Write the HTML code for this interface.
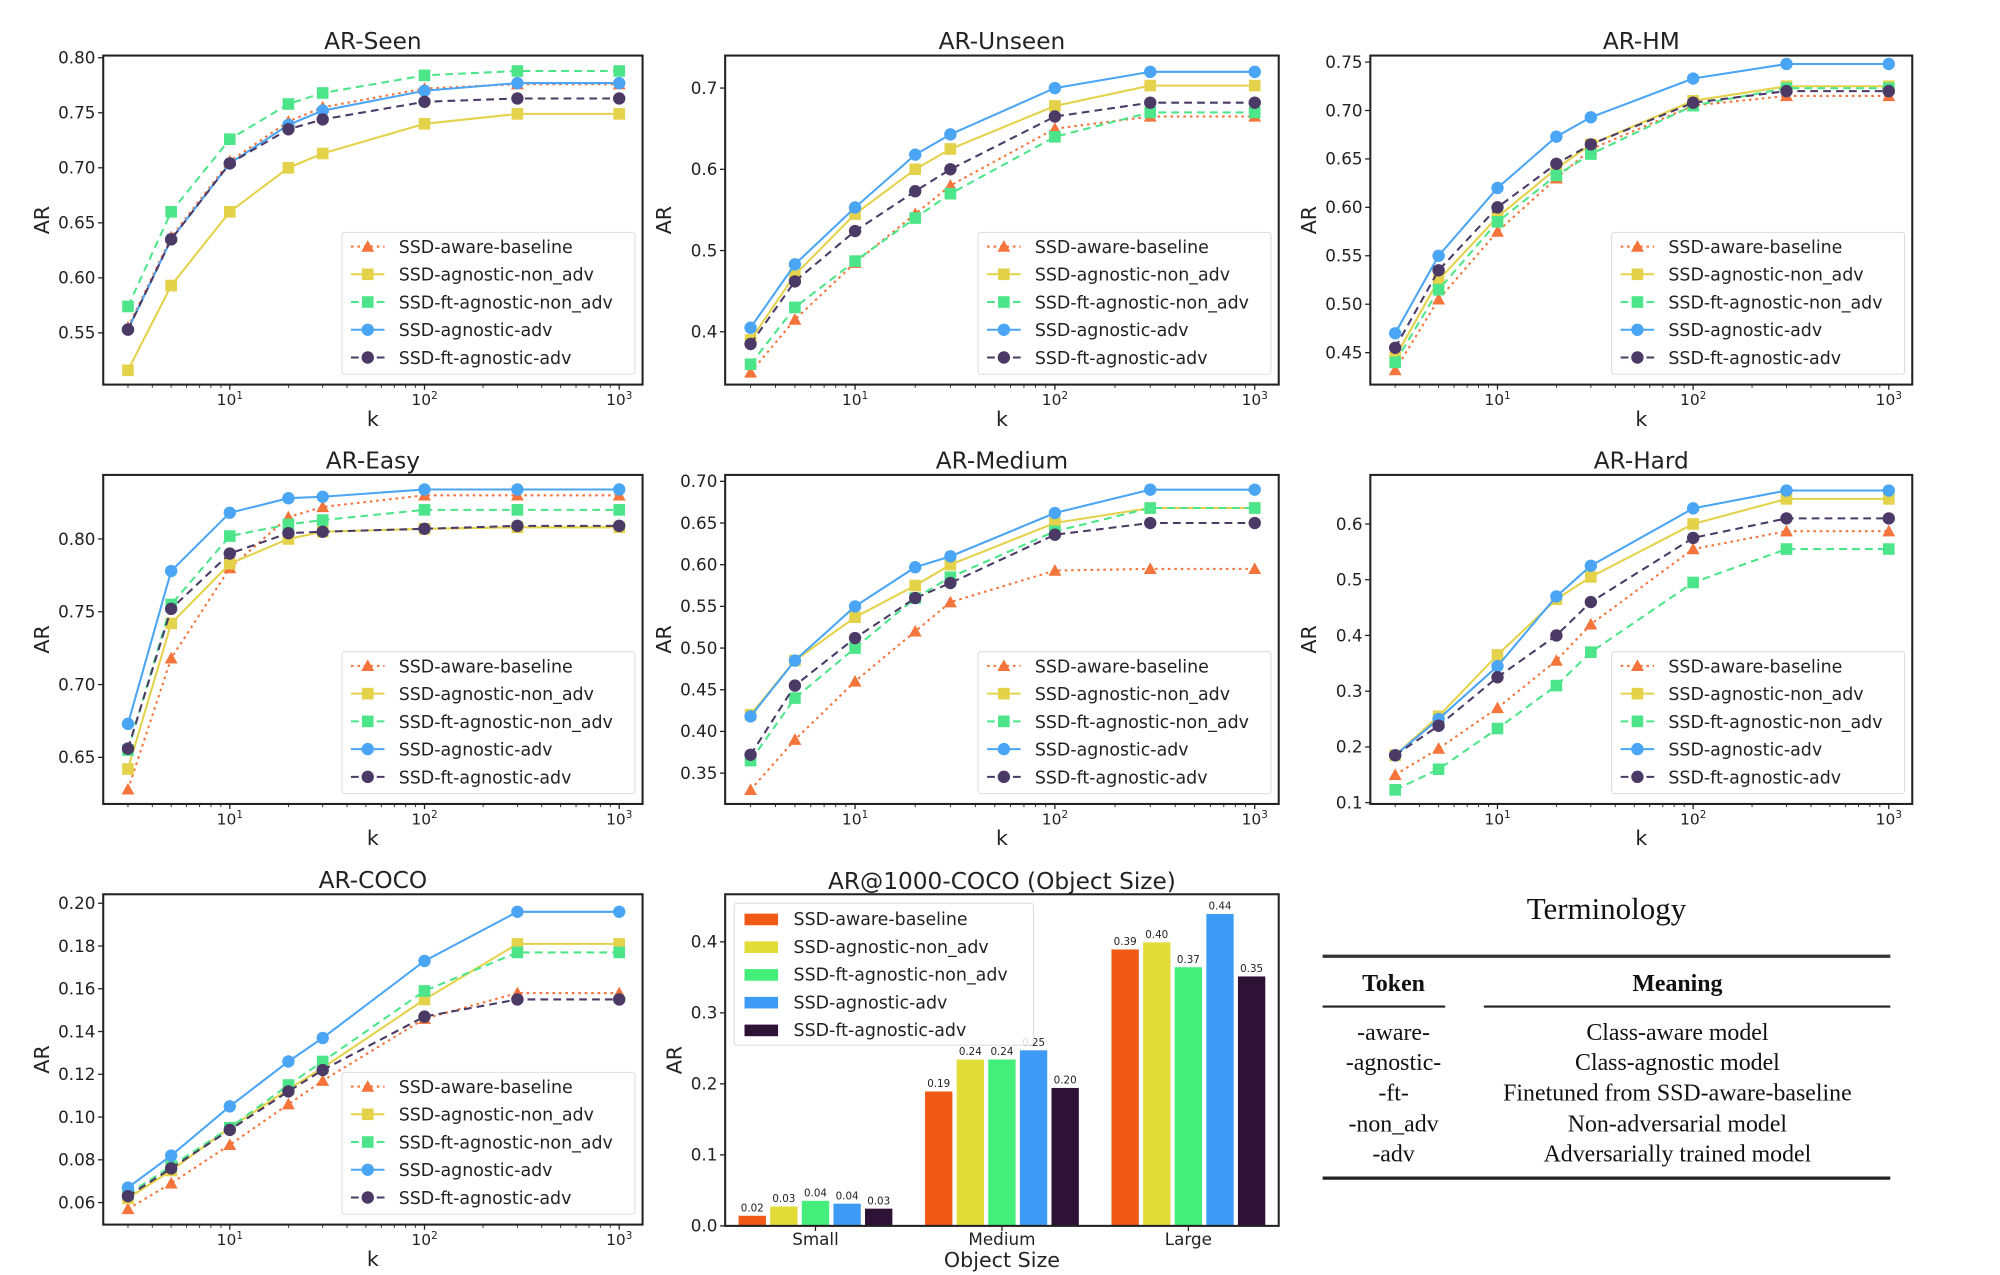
<!DOCTYPE html>
<html><head><meta charset="utf-8">
<style>
html,body{margin:0;padding:0;background:#fff;}
svg{display:block;}
text{font-family:"DejaVu Sans","Liberation Sans",sans-serif;fill:#222;}
.serif{font-family:"Liberation Serif","DejaVu Serif",serif;fill:#111;}
</style></head>
<body>
<svg id="fig" xmlns="http://www.w3.org/2000/svg" width="2000" height="1275" viewBox="0 0 1550 988">
<g id="terminology">
  <text class="serif" x="1245" y="712" font-size="24" text-anchor="middle">Terminology</text>
  <line x1="1025" y1="741" x2="1465" y2="741" stroke="#333" stroke-width="2.5"/>
  <text class="serif" x="1080" y="768" font-size="18.5" font-weight="bold" text-anchor="middle">Token</text>
  <text class="serif" x="1300" y="768" font-size="18.5" font-weight="bold" text-anchor="middle">Meaning</text>
  <line x1="1025" y1="780" x2="1120" y2="780" stroke="#222" stroke-width="1.6"/>
  <line x1="1150" y1="780" x2="1465" y2="780" stroke="#222" stroke-width="1.6"/>
  <text class="serif" font-size="18.5" text-anchor="middle">
    <tspan x="1080" y="806">-aware-</tspan><tspan x="1080" y="829">-agnostic-</tspan><tspan x="1080" y="853">-ft-</tspan><tspan x="1080" y="877">-non_adv</tspan><tspan x="1080" y="900">-adv</tspan>
  </text>
  <text class="serif" font-size="18.5" text-anchor="middle">
    <tspan x="1300" y="806">Class-aware model</tspan><tspan x="1300" y="829">Class-agnostic model</tspan><tspan x="1300" y="853">Finetuned from SSD-aware-baseline</tspan><tspan x="1300" y="877">Non-adversarial model</tspan><tspan x="1300" y="900">Adversarially trained model</tspan>
  </text>
  <line x1="1025" y1="913" x2="1465" y2="913" stroke="#222" stroke-width="2.5"/>
</g>
</svg>
<script>
// ---- data ----
const kValues = [3,5,10,20,30,100,300,1000];
const seriesNames = ["SSD-aware-baseline","SSD-agnostic-non_adv","SSD-ft-agnostic-non_adv","SSD-agnostic-adv","SSD-ft-agnostic-adv"];
const seenAware  = [.555,.637,.706,.742,.755,.772,.776,.776];
const seenAgnNon = [.516,.593,.660,.700,.713,.740,.749,.749];
const seenFtNon  = [.574,.660,.726,.758,.768,.784,.788,.788];
const seenAgnAdv = [.553,.635,.704,.739,.752,.770,.777,.777];
const seenFtAdv  = [.553,.635,.704,.735,.744,.760,.763,.763];
const unseenAware  = [.350,.415,.485,.545,.580,.650,.665,.665];
const unseenAgnNon = [.390,.470,.545,.600,.625,.678,.703,.703];
const unseenFtNon  = [.360,.430,.487,.540,.570,.640,.670,.670];
const unseenAgnAdv = [.405,.483,.553,.618,.643,.700,.720,.720];
const unseenFtAdv  = [.385,.462,.524,.573,.600,.665,.682,.682];
const hmAware  = [.432,.505,.575,.630,.660,.705,.715,.715];
const hmAgnNon = [.445,.525,.590,.640,.665,.710,.725,.725];
const hmFtNon  = [.440,.515,.585,.633,.655,.705,.723,.723];
const hmAgnAdv = [.470,.550,.620,.673,.693,.733,.748,.748];
const hmFtAdv  = [.455,.535,.600,.645,.665,.708,.720,.720];
const easyAware  = [.628,.718,.780,.815,.822,.830,.830,.830];
const easyAgnNon = [.642,.742,.783,.800,.805,.807,.808,.808];
const easyFtNon  = [.655,.755,.802,.810,.813,.820,.820,.820];
const easyAgnAdv = [.673,.778,.818,.828,.829,.834,.834,.834];
const easyFtAdv  = [.656,.752,.790,.804,.805,.807,.809,.809];
const medAware  = [.330,.390,.460,.520,.555,.593,.595,.595];
const medAgnNon = [.420,.485,.537,.575,.600,.650,.668,.668];
const medFtNon  = [.365,.440,.500,.560,.585,.640,.668,.668];
const medAgnAdv = [.418,.485,.550,.597,.610,.662,.690,.690];
const medFtAdv  = [.372,.455,.512,.560,.578,.636,.650,.650];
const hardAware  = [.150,.197,.270,.355,.420,.555,.587,.587];
const hardAgnNon = [.185,.255,.365,.465,.505,.600,.645,.645];
const hardFtNon  = [.123,.160,.233,.310,.370,.495,.555,.555];
const hardAgnAdv = [.185,.250,.345,.470,.525,.628,.660,.660];
const hardFtAdv  = [.185,.238,.325,.400,.460,.575,.610,.610];
const cocoAware  = [.057,.069,.087,.106,.117,.146,.158,.158];
const cocoAgnNon = [.062,.075,.095,.113,.123,.155,.181,.181];
const cocoFtNon  = [.064,.077,.095,.115,.126,.159,.177,.177];
const cocoAgnAdv = [.067,.082,.105,.126,.137,.173,.196,.196];
const cocoFtAdv  = [.063,.076,.094,.112,.122,.147,.155,.155];
const seenTicks = [0.55,0.60,0.65,0.70,0.75,0.80];
const unseenTicks = [0.4,0.5,0.6,0.7];
const hmTicks = [0.45,0.50,0.55,0.60,0.65,0.70,0.75];
const easyTicks = [0.65,0.70,0.75,0.80];
const medTicks = [0.35,0.40,0.45,0.50,0.55,0.60,0.65,0.70];
const hardTicks = [0.1,0.2,0.3,0.4,0.5,0.6];
const cocoTicks = [0.06,0.08,0.10,0.12,0.14,0.16,0.18,0.20];
const sizeCategories = ["Small","Medium","Large"];
const barAware  = [.015,.190,.390];
const barAgnNon = [.028,.235,.400];
const barFtNon  = [.036,.235,.365];
const barAgnAdv = [.032,.248,.440];
const barFtAdv  = [.025,.195,.352];
const barLabels = [["0.02","0.19","0.39"],["0.03","0.24","0.40"],["0.04","0.24","0.37"],["0.04","0.25","0.44"],["0.03","0.20","0.35"]];
const barTicks = [0.0,0.1,0.2,0.3,0.4];

// ---- styles ----
const NS="http://www.w3.org/2000/svg";
const svg=document.getElementById('fig');
const lineColors=["#f4743b","#e3d24a","#4de58a","#4aa5f5","#4b3a66"];
const dashes=["2,3","","6,4","","6,4"];
const markers=["tri","sq","sq","circ","circ"];
const barColors=["#f05a14","#e2dc38","#44ee7a","#3e9bf5","#2e1236"];
function mk(tag,attrs,parent){const e=document.createElementNS(NS,tag);for(const k in attrs)e.setAttribute(k,attrs[k]);(parent||svg).appendChild(e);return e;}
function txt(x,y,s,size,anchor,parent){const t=mk('text',{x:x,y:y,'font-size':size,'text-anchor':anchor||'middle'},parent);t.textContent=s;return t;}
function marker(type,x,y,color,g){
  if(type==="tri") return mk('polygon',{points:`${x},${y-5} ${x-5},${y+4} ${x+5},${y+4}`,fill:color},g);
  if(type==="sq") return mk('rect',{x:x-4.5,y:y-4.5,width:9,height:9,fill:color},g);
  return mk('circle',{cx:x,cy:y,r:4.8,fill:color},g);
}

function lineChart(id,title,box,ymin,ymax,ticks,dec,series){
  const [L,T,R,B]=box;
  const g=mk('g',{});
  
  
  const xmin=0.35,xmax=3.12;
  const xs=v=>L+(Math.log10(v)-xmin)/(xmax-xmin)*(R-L);
  const ys=v=>B-(v-ymin)/(ymax-ymin)*(B-T);
  const tt=txt((L+R)/2,T-5,title,18,'middle',g);
  
  
  ticks.forEach(v=>{const y=ys(v);mk('line',{x1:L-4,y1:y,x2:L,y2:y,stroke:'#222','stroke-width':1},g);
    const lb=txt(L-6,y+4.5,v.toFixed(dec),13,'end',g);
    
    });
  for(let d=0;d<=3;d++){for(let m=1;m<10;m++){const v=m*Math.pow(10,d);const lv=Math.log10(v);if(lv<xmin||lv>xmax)continue;const x=xs(v);
    mk('line',{x1:x,y1:B,x2:x,y2:B+(m===1?4:2.5),stroke:'#222','stroke-width':m===1?1:0.7},g);
    if(m===1&&d>0){const t=txt(x,B+16,'10',12,'middle',g);const s=mk('tspan',{dy:-5,'font-size':8},t);s.textContent=String(d);}}}
  const xl=txt((L+R)/2,B+32,'k',16,'middle',g);
  
  
  const yl=txt(0,0,'AR',16,'middle',g);yl.setAttribute('transform',`translate(${L-42},${(T+B)/2}) rotate(-90)`);
  
  
  series.forEach((arr,i)=>{
    const pts=arr.map((v,j)=>xs(kValues[j])+','+ys(v)).join(' ');
    const pl=mk('polyline',{points:pts,fill:'none',stroke:lineColors[i],'stroke-width':1.6,'stroke-dasharray':dashes[i]},g);
    
    
    arr.forEach((v,j)=>marker(markers[i],xs(kValues[j]),ys(v),lineColors[i],g));
  });
  mk('rect',{x:L,y:T,width:R-L,height:B-T,fill:'none',stroke:'#222','stroke-width':1.6},g);
  const lg=mk('g',{},g);
  
  
  const lx=R-233,ly=B-118;
  mk('rect',{x:lx,y:ly,width:227,height:110,fill:'#fff','fill-opacity':0.85,stroke:'#ddd','stroke-width':0.8,rx:2},lg);
  seriesNames.forEach((n,i)=>{const y=ly+11+i*21.5;
    mk('line',{x1:lx+7,y1:y,x2:lx+33,y2:y,stroke:lineColors[i],'stroke-width':1.6,'stroke-dasharray':dashes[i]},lg);
    marker(markers[i],lx+20,y,lineColors[i],lg);
    const t=txt(lx+44,y+5,n,13.5,'start',lg);
    
    });
}

lineChart('ar-seen','AR-Seen',[80,43,498,298],0.503,0.802,seenTicks,2,[seenAware,seenAgnNon,seenFtNon,seenAgnAdv,seenFtAdv]);
lineChart('ar-unseen','AR-Unseen',[562,43,991,298],0.335,0.740,unseenTicks,1,[unseenAware,unseenAgnNon,unseenFtNon,unseenAgnAdv,unseenFtAdv]);
lineChart('ar-hm','AR-HM',[1062,43,1482,298],0.417,0.7567,hmTicks,2,[hmAware,hmAgnNon,hmFtNon,hmAgnAdv,hmFtAdv]);
lineChart('ar-easy','AR-Easy',[80,368,498,623],0.618,0.844,easyTicks,2,[easyAware,easyAgnNon,easyFtNon,easyAgnAdv,easyFtAdv]);
lineChart('ar-medium','AR-Medium',[562,368,991,623],0.313,0.7077,medTicks,2,[medAware,medAgnNon,medFtNon,medAgnAdv,medFtAdv]);
lineChart('ar-hard','AR-Hard',[1062,368,1482,623],0.0977,0.688,hardTicks,1,[hardAware,hardAgnNon,hardFtNon,hardAgnAdv,hardFtAdv]);
lineChart('ar-coco','AR-COCO',[80,693,498,949],0.0497,0.2042,cocoTicks,2,[cocoAware,cocoAgnNon,cocoFtNon,cocoAgnAdv,cocoFtAdv]);

(function(){
  const L=562,T=693,R=991,B=950,ymax=0.467;
  const g=mk('g',{});
  
  
  const ys=v=>B-v/ymax*(B-T);
  const tt=txt((L+R)/2,T-4,'AR@1000-COCO (Object Size)',18,'middle',g);
  
  
  barTicks.forEach(v=>{const y=ys(v);mk('line',{x1:L-4,y1:y,x2:L,y2:y,stroke:'#222'},g);txt(L-6,y+4.5,v.toFixed(1),13,'end',g);});
  const yl=txt(0,0,'AR',16,'middle',g);yl.setAttribute('transform',`translate(${L-34},${(T+B)/2}) rotate(-90)`);
  
  
  const groupW=(R-L)/sizeCategories.length;
  const bw=22,step=24.5;
  const all=[barAware,barAgnNon,barFtNon,barAgnAdv,barFtAdv];
  sizeCategories.forEach((c,ci)=>{
    const cx=L+groupW*(ci+0.5)+ (ci-1)*1.5;
    mk('line',{x1:cx,y1:B,x2:cx,y2:B+4,stroke:'#222'},g);
    const cl=txt(cx,B+15,c,13,'middle',g);
    
    
    all.forEach((arr,si)=>{
      const x=cx+(si-2)*step-bw/2;const y=ys(arr[ci]);
      const r=mk('rect',{x:x,y:y,width:bw,height:B-y,fill:barColors[si],stroke:'#fff','stroke-width':0.8},g);
      
      
      const vl=txt(x+bw/2,y-3,barLabels[si][ci],8,'middle',g);
      
      
    });
  });
  const xl=txt((L+R)/2,B+32,'Object Size',16,'middle',g);
  
  
  mk('rect',{x:L,y:T,width:R-L,height:B-T,fill:'none',stroke:'#222','stroke-width':1.6},g);
  const lg=mk('g',{},g);
  
  
  mk('rect',{x:L+7,y:T+7,width:232,height:110,fill:'#fff','fill-opacity':0.85,stroke:'#ddd','stroke-width':0.8,rx:2},lg);
  seriesNames.forEach((n,i)=>{const y=T+19+i*21.5;
    mk('rect',{x:L+15,y:y-4,width:26,height:9,fill:barColors[i]},lg);
    const t=txt(L+53,y+5,n,13.5,'start',lg);
    
    });
})();
</script>
</body></html>
